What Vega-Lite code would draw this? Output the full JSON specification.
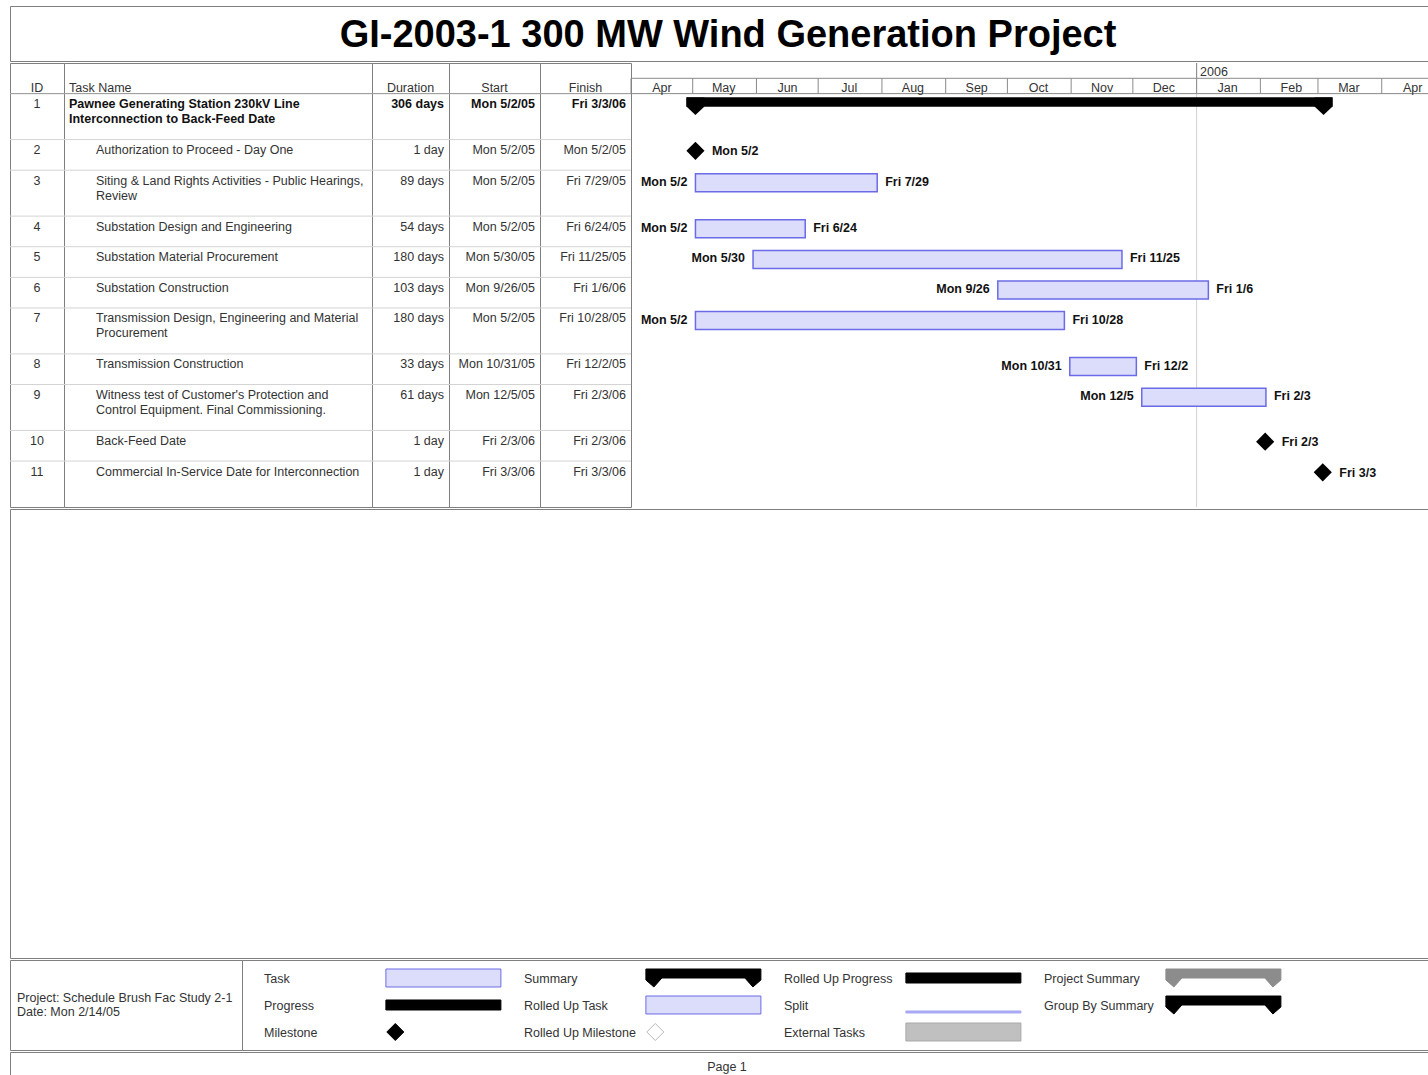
{
  "$schema": "https://vega.github.io/schema/vega-lite/v6.json",
  "background": "white",
  "padding": {"left": 9, "top": 5, "right": 0, "bottom": 0},
  "spacing": 0,
  "config": {
    "font": "Liberation Sans",
    "view": {"stroke": "#7f7f7f", "strokeWidth": 1},
    "axis": {"labelFont": "Liberation Sans"}
  },
  "datasets": {
    "tasks": [
      {"ID": 1, "name": "Pawnee Generating Station   230kV Line\nInterconnection to Back-Feed Date", "level": 1, "duration": "306 days", "start": "2005-05-02T08:00", "finish": "2006-03-03T17:00", "type": "summary"},
      {"ID": 2, "name": "Authorization to Proceed - Day One", "level": 2, "duration": "1 day", "start": "2005-05-02T08:00", "finish": "2005-05-02T17:00", "type": "milestone"},
      {"ID": 3, "name": "Siting & Land Rights Activities - Public Hearings,\nReview", "level": 2, "duration": "89 days", "start": "2005-05-02T08:00", "finish": "2005-07-29T17:00", "type": "task"},
      {"ID": 4, "name": "Substation Design and Engineering", "level": 2, "duration": "54 days", "start": "2005-05-02T08:00", "finish": "2005-06-24T17:00", "type": "task"},
      {"ID": 5, "name": "Substation Material Procurement", "level": 2, "duration": "180 days", "start": "2005-05-30T08:00", "finish": "2005-11-25T17:00", "type": "task"},
      {"ID": 6, "name": "Substation Construction", "level": 2, "duration": "103 days", "start": "2005-09-26T08:00", "finish": "2006-01-06T17:00", "type": "task"},
      {"ID": 7, "name": "Transmission Design, Engineering and Material\nProcurement", "level": 2, "duration": "180 days", "start": "2005-05-02T08:00", "finish": "2005-10-28T17:00", "type": "task"},
      {"ID": 8, "name": "Transmission Construction", "level": 2, "duration": "33 days", "start": "2005-10-31T08:00", "finish": "2005-12-02T17:00", "type": "task"},
      {"ID": 9, "name": "Witness test of Customer's Protection and\nControl Equipment.  Final Commissioning.", "level": 2, "duration": "61 days", "start": "2005-12-05T08:00", "finish": "2006-02-03T17:00", "type": "task"},
      {"ID": 10, "name": "Back-Feed Date", "level": 2, "duration": "1 day", "start": "2006-02-03T08:00", "finish": "2006-02-03T17:00", "type": "milestone"},
      {"ID": 11, "name": "Commercial In-Service Date for Interconnection", "level": 2, "duration": "1 day", "start": "2006-03-03T08:00", "finish": "2006-03-03T17:00", "type": "milestone"}
    ],
    "months": [
      {"m": "2005-04-01T00:00", "tier": "H2"}, {"m": "2005-05-01T00:00", "tier": "H2"}, {"m": "2005-06-01T00:00", "tier": "H2"},
      {"m": "2005-07-01T00:00", "tier": "H2"}, {"m": "2005-08-01T00:00", "tier": "H2"}, {"m": "2005-09-01T00:00", "tier": "H2"},
      {"m": "2005-10-01T00:00", "tier": "H2"}, {"m": "2005-11-01T00:00", "tier": "H2"}, {"m": "2005-12-01T00:00", "tier": "H2"},
      {"m": "2006-01-01T00:00", "tier": "H2"}, {"m": "2006-02-01T00:00", "tier": "H2"}, {"m": "2006-03-01T00:00", "tier": "H2"},
      {"m": "2006-04-01T00:00", "tier": "H2"}
    ],
    "years": [
      {"d": "2006-01-01T00:00", "yr": "2006", "tier": "H1", "sep": "H2", "line": 1}
    ],
    "legend": [
      {"item": "Task", "col": "1", "row": "1", "glyph": "task"},
      {"item": "Progress", "col": "1", "row": "2", "glyph": "progress"},
      {"item": "Milestone", "col": "1", "row": "3", "glyph": "milestone"},
      {"item": "Summary", "col": "2", "row": "1", "glyph": "summary"},
      {"item": "Rolled Up Task", "col": "2", "row": "2", "glyph": "rolledTask"},
      {"item": "Rolled Up Milestone", "col": "2", "row": "3", "glyph": "rolledMilestone"},
      {"item": "Rolled Up Progress", "col": "3", "row": "1", "glyph": "rolledProgress"},
      {"item": "Split", "col": "3", "row": "2", "glyph": "split"},
      {"item": "External Tasks", "col": "3", "row": "3", "glyph": "external"},
      {"item": "Project Summary", "col": "4", "row": "1", "glyph": "projectSummary"},
      {"item": "Group By Summary", "col": "4", "row": "2", "glyph": "groupSummary"}
    ]
  },
  "vconcat": [
    {
      "width": 1418, "height": 55,
      "data": {"values": [{"t": "GI-2003-1 300 MW Wind Generation Project"}]},
      "mark": {"type": "text", "fontSize": 38, "fontWeight": "bold", "color": "#000000", "baseline": "middle", "dx": 9, "dy": 2},
      "encoding": {
        "x": {"field": "t", "type": "nominal", "scale": {"type": "band", "paddingInner": 0, "paddingOuter": 0}, "axis": null},
        "y": {"field": "t", "type": "nominal", "scale": {"type": "band", "paddingInner": 0, "paddingOuter": 0}, "axis": null},
        "text": {"field": "t"}}
    },
    {
      "hconcat": [
        {
          "width": 54, "height": 444,
          "layer": [
            {"data": {"name": "tasks"}, "mark": {"type": "rule", "color": "#d4d4d4"},
             "encoding": {"y": {"field": "ID", "type": "nominal", "bandPosition": 0, "scale": {"type": "band", "domain": ["H1","H2",1,"1b","1c",2,"2b",3,"3b","3c",4,"4b",5,"5b",6,"6b",7,"7b","7c",8,"8b",9,"9b","9c",10,"10b",11,"11b","11c"], "paddingInner": 0, "paddingOuter": 0}, "axis": null}}},
            {"data": {"values": [{"h": "ID", "slot": "H2", "line": 1}]}, "mark": {"type": "rule", "color": "#999999"},
             "encoding": {"y": {"field": "line", "type": "nominal", "bandPosition": 0, "axis": null}}},
            {"data": {"values": [{"h": "ID", "slot": "H2", "line": 1}]}, "mark": {"type": "text", "baseline": "middle", "dy": 1.75, "fontSize": 12.5, "color": "#333333"},
             "encoding": {"y": {"field": "slot", "type": "nominal", "axis": null}, "text": {"field": "h"}}},
            {"data": {"name": "tasks"}, "mark": {"type": "text", "baseline": "top", "dy": 4.5, "fontSize": 12.5, "color": "#333333"},
             "encoding": {"y": {"field": "ID", "type": "nominal", "bandPosition": 0, "axis": null}, "text": {"field": "ID"}}}
          ]
        },
        {
          "width": 308, "height": 444,
          "layer": [
            {"data": {"name": "tasks"}, "mark": {"type": "rule", "color": "#d4d4d4"},
             "encoding": {"y": {"field": "ID", "type": "nominal", "bandPosition": 0, "scale": {"type": "band", "domain": ["H1","H2",1,"1b","1c",2,"2b",3,"3b","3c",4,"4b",5,"5b",6,"6b",7,"7b","7c",8,"8b",9,"9b","9c",10,"10b",11,"11b","11c"], "paddingInner": 0, "paddingOuter": 0}, "axis": null}}},
            {"data": {"values": [{"h": "Task Name", "slot": "H2", "line": 1, "level": 1}]}, "mark": {"type": "rule", "color": "#999999"},
             "encoding": {"y": {"field": "line", "type": "nominal", "bandPosition": 0, "axis": null}}},
            {"data": {"values": [{"h": "Task Name", "slot": "H2", "line": 1, "level": 1}]}, "mark": {"type": "text", "align": "left", "baseline": "middle", "dy": 1.75, "fontSize": 12.5, "color": "#333333"},
             "encoding": {"x": {"field": "level", "type": "quantitative", "scale": {"domain": [1, 2], "range": [5, 32]}, "axis": null}, "y": {"field": "slot", "type": "nominal", "axis": null}, "text": {"field": "h"}}},
            {"data": {"name": "tasks"}, "transform": [{"filter": "datum.level == 1"}],
             "mark": {"type": "text", "align": "left", "baseline": "top", "dy": 4.5, "fontSize": 12.5, "fontWeight": "bold", "color": "#111111", "lineBreak": "\n", "lineHeight": 15},
             "encoding": {"x": {"field": "level", "type": "quantitative", "axis": null}, "y": {"field": "ID", "type": "nominal", "bandPosition": 0, "axis": null}, "text": {"field": "name"}}},
            {"data": {"name": "tasks"}, "transform": [{"filter": "datum.level == 2"}],
             "mark": {"type": "text", "align": "left", "baseline": "top", "dy": 4.5, "fontSize": 12.5, "color": "#333333", "lineBreak": "\n", "lineHeight": 15},
             "encoding": {"x": {"field": "level", "type": "quantitative", "axis": null}, "y": {"field": "ID", "type": "nominal", "bandPosition": 0, "axis": null}, "text": {"field": "name"}}}
          ]
        },
        {
          "width": 77, "height": 444,
          "layer": [
            {"data": {"name": "tasks"}, "mark": {"type": "rule", "color": "#d4d4d4"},
             "encoding": {"y": {"field": "ID", "type": "nominal", "bandPosition": 0, "scale": {"type": "band", "domain": ["H1","H2",1,"1b","1c",2,"2b",3,"3b","3c",4,"4b",5,"5b",6,"6b",7,"7b","7c",8,"8b",9,"9b","9c",10,"10b",11,"11b","11c"], "paddingInner": 0, "paddingOuter": 0}, "axis": null}}},
            {"data": {"values": [{"h": "Duration", "slot": "H2", "line": 1}]}, "mark": {"type": "rule", "color": "#999999"},
             "encoding": {"y": {"field": "line", "type": "nominal", "bandPosition": 0, "axis": null}}},
            {"data": {"values": [{"h": "Duration", "slot": "H2", "line": 1}]}, "mark": {"type": "text", "baseline": "middle", "dy": 1.75, "fontSize": 12.5, "color": "#333333"},
             "encoding": {"y": {"field": "slot", "type": "nominal", "axis": null}, "text": {"field": "h"}}},
            {"data": {"name": "tasks"}, "transform": [{"filter": "datum.level == 1"}],
             "mark": {"type": "text", "x": "width", "dx": -5, "align": "right", "baseline": "top", "dy": 4.5, "fontSize": 12.5, "fontWeight": "bold", "color": "#111111"},
             "encoding": {"y": {"field": "ID", "type": "nominal", "bandPosition": 0, "axis": null}, "text": {"field": "duration"}}},
            {"data": {"name": "tasks"}, "transform": [{"filter": "datum.level == 2"}],
             "mark": {"type": "text", "x": "width", "dx": -5, "align": "right", "baseline": "top", "dy": 4.5, "fontSize": 12.5, "color": "#333333"},
             "encoding": {"y": {"field": "ID", "type": "nominal", "bandPosition": 0, "axis": null}, "text": {"field": "duration"}}}
          ]
        },
        {
          "width": 91, "height": 444,
          "layer": [
            {"data": {"name": "tasks"}, "mark": {"type": "rule", "color": "#d4d4d4"},
             "encoding": {"y": {"field": "ID", "type": "nominal", "bandPosition": 0, "scale": {"type": "band", "domain": ["H1","H2",1,"1b","1c",2,"2b",3,"3b","3c",4,"4b",5,"5b",6,"6b",7,"7b","7c",8,"8b",9,"9b","9c",10,"10b",11,"11b","11c"], "paddingInner": 0, "paddingOuter": 0}, "axis": null}}},
            {"data": {"values": [{"h": "Start", "slot": "H2", "line": 1}]}, "mark": {"type": "rule", "color": "#999999"},
             "encoding": {"y": {"field": "line", "type": "nominal", "bandPosition": 0, "axis": null}}},
            {"data": {"values": [{"h": "Start", "slot": "H2", "line": 1}]}, "mark": {"type": "text", "baseline": "middle", "dy": 1.75, "fontSize": 12.5, "color": "#333333"},
             "encoding": {"y": {"field": "slot", "type": "nominal", "axis": null}, "text": {"field": "h"}}},
            {"data": {"name": "tasks"}, "transform": [{"filter": "datum.level == 1"}],
             "mark": {"type": "text", "x": "width", "dx": -5, "align": "right", "baseline": "top", "dy": 4.5, "fontSize": 12.5, "fontWeight": "bold", "color": "#111111"},
             "encoding": {"y": {"field": "ID", "type": "nominal", "bandPosition": 0, "axis": null}, "text": {"field": "start", "type": "temporal", "format": "%a %-m/%-d/%y"}}},
            {"data": {"name": "tasks"}, "transform": [{"filter": "datum.level == 2"}],
             "mark": {"type": "text", "x": "width", "dx": -5, "align": "right", "baseline": "top", "dy": 4.5, "fontSize": 12.5, "color": "#333333"},
             "encoding": {"y": {"field": "ID", "type": "nominal", "bandPosition": 0, "axis": null}, "text": {"field": "start", "type": "temporal", "format": "%a %-m/%-d/%y"}}}
          ]
        },
        {
          "width": 91, "height": 444,
          "layer": [
            {"data": {"name": "tasks"}, "mark": {"type": "rule", "color": "#d4d4d4"},
             "encoding": {"y": {"field": "ID", "type": "nominal", "bandPosition": 0, "scale": {"type": "band", "domain": ["H1","H2",1,"1b","1c",2,"2b",3,"3b","3c",4,"4b",5,"5b",6,"6b",7,"7b","7c",8,"8b",9,"9b","9c",10,"10b",11,"11b","11c"], "paddingInner": 0, "paddingOuter": 0}, "axis": null}}},
            {"data": {"values": [{"h": "Finish", "slot": "H2", "line": 1}]}, "mark": {"type": "rule", "color": "#999999"},
             "encoding": {"y": {"field": "line", "type": "nominal", "bandPosition": 0, "axis": null}}},
            {"data": {"values": [{"h": "Finish", "slot": "H2", "line": 1}]}, "mark": {"type": "text", "baseline": "middle", "dy": 1.75, "fontSize": 12.5, "color": "#333333"},
             "encoding": {"y": {"field": "slot", "type": "nominal", "axis": null}, "text": {"field": "h"}}},
            {"data": {"name": "tasks"}, "transform": [{"filter": "datum.level == 1"}],
             "mark": {"type": "text", "x": "width", "dx": -5, "align": "right", "baseline": "top", "dy": 4.5, "fontSize": 12.5, "fontWeight": "bold", "color": "#111111"},
             "encoding": {"y": {"field": "ID", "type": "nominal", "bandPosition": 0, "axis": null}, "text": {"field": "finish", "type": "temporal", "format": "%a %-m/%-d/%y"}}},
            {"data": {"name": "tasks"}, "transform": [{"filter": "datum.level == 2"}],
             "mark": {"type": "text", "x": "width", "dx": -5, "align": "right", "baseline": "top", "dy": 4.5, "fontSize": 12.5, "color": "#333333"},
             "encoding": {"y": {"field": "ID", "type": "nominal", "bandPosition": 0, "axis": null}, "text": {"field": "finish", "type": "temporal", "format": "%a %-m/%-d/%y"}}}
          ]
        },
        {
          "width": 797, "height": 444,
          "view": {"stroke": null},
          "layer": [
            {"data": {"name": "years"}, "mark": {"type": "rule", "color": "#d0d0d0"},
             "encoding": {"x": {"field": "d", "type": "temporal",
               "scale": {"type": "time", "nice": false, "domain": [{"year": 2005, "month": 4, "date": 1}, {"year": 2006, "month": 4, "date": 23, "hours": 12}]},
               "axis": null}}},
            {"data": {"name": "years"}, "mark": {"type": "rule", "color": "#8a8a8a"},
             "encoding": {"y": {"field": "sep", "type": "nominal", "bandPosition": 0, "axis": null}}},
            {"data": {"name": "years"}, "mark": {"type": "rule", "color": "#8a8a8a"},
             "encoding": {"y": {"field": "line", "type": "nominal", "bandPosition": 0, "axis": null}}},
            {"data": {"name": "years"}, "mark": {"type": "tick", "color": "#8a8a8a", "size": 15.31, "thickness": 1, "opacity": 1},
             "encoding": {"x": {"field": "d", "type": "temporal", "axis": null}, "y": {"field": "tier", "type": "nominal", "axis": null}}},
            {"data": {"name": "years"}, "mark": {"type": "text", "align": "left", "dx": 3.5, "baseline": "middle", "dy": 1, "fontSize": 12.5, "color": "#333333"},
             "encoding": {"x": {"field": "d", "type": "temporal", "axis": null}, "y": {"field": "tier", "type": "nominal", "axis": null}, "text": {"field": "yr"}}},
            {"data": {"name": "months"}, "mark": {"type": "tick", "color": "#8a8a8a", "size": 15.31, "thickness": 1, "opacity": 1},
             "encoding": {"x": {"field": "m", "type": "temporal", "axis": null}, "y": {"field": "tier", "type": "nominal", "axis": null}}},
            {"data": {"name": "months"}, "mark": {"type": "text", "align": "center", "dx": 31, "baseline": "middle", "dy": 2, "fontSize": 12.5, "color": "#333333"},
             "encoding": {"x": {"field": "m", "type": "temporal", "axis": null}, "y": {"field": "tier", "type": "nominal", "axis": null}, "text": {"field": "m", "type": "temporal", "format": "%b"}}},
            {"data": {"name": "tasks"}, "transform": [{"filter": "datum.type === 'summary'"}],
             "mark": {"type": "bar", "color": "#000000", "size": 9.5, "xOffset": -9, "x2Offset": 9, "yOffset": 0.75},
             "encoding": {"x": {"field": "start", "type": "temporal", "axis": null}, "x2": {"field": "finish"},
               "y": {"field": "ID", "type": "nominal", "scale": {"type": "band", "domain": ["H1","H2",1,"1b","1c",2,"2b",3,"3b","3c",4,"4b",5,"5b",6,"6b",7,"7b","7c",8,"8b",9,"9b","9c",10,"10b",11,"11b","11c"], "paddingInner": 0, "paddingOuter": 0}, "axis": null}}},
            {"data": {"name": "tasks"}, "transform": [{"filter": "datum.type === 'summary'"}],
             "mark": {"type": "point", "shape": "M-1,-0.5L1,-0.5L1,0.5L0,1.45L-1,0.5Z", "size": 324, "filled": true, "color": "#000000", "opacity": 1, "strokeWidth": 0, "yOffset": 0.75},
             "encoding": {"x": {"field": "start", "type": "temporal", "axis": null}, "y": {"field": "ID", "type": "nominal", "axis": null}}},
            {"data": {"name": "tasks"}, "transform": [{"filter": "datum.type === 'summary'"}],
             "mark": {"type": "point", "shape": "M-1,-0.5L1,-0.5L1,0.5L0,1.45L-1,0.5Z", "size": 324, "filled": true, "color": "#000000", "opacity": 1, "strokeWidth": 0, "yOffset": 0.75},
             "encoding": {"x": {"field": "finish", "type": "temporal", "axis": null}, "y": {"field": "ID", "type": "nominal", "axis": null}}},
            {"data": {"name": "tasks"}, "transform": [{"filter": "datum.type === 'task'"}],
             "mark": {"type": "bar", "size": 18, "yOffset": 5, "fill": "#dcdcfb", "stroke": "#6b6be8", "strokeWidth": 1.5},
             "encoding": {"x": {"field": "start", "type": "temporal", "axis": null}, "x2": {"field": "finish"}, "y": {"field": "ID", "type": "nominal", "axis": null}}},
            {"data": {"name": "tasks"}, "transform": [{"filter": "datum.type === 'task'"}],
             "mark": {"type": "text", "align": "right", "dx": -8, "dy": 4, "baseline": "middle", "fontWeight": "bold", "fontSize": 12.5, "color": "#111111"},
             "encoding": {"x": {"field": "start", "type": "temporal", "axis": null}, "y": {"field": "ID", "type": "nominal", "axis": null}, "text": {"field": "start", "type": "temporal", "format": "%a %-m/%-d"}}},
            {"data": {"name": "tasks"}, "transform": [{"filter": "datum.type === 'task'"}],
             "mark": {"type": "text", "align": "left", "dx": 8, "dy": 4, "baseline": "middle", "fontWeight": "bold", "fontSize": 12.5, "color": "#111111"},
             "encoding": {"x": {"field": "finish", "type": "temporal", "axis": null}, "y": {"field": "ID", "type": "nominal", "axis": null}, "text": {"field": "finish", "type": "temporal", "format": "%a %-m/%-d"}}},
            {"data": {"name": "tasks"}, "transform": [{"filter": "datum.type === 'milestone'"}],
             "mark": {"type": "point", "shape": "diamond", "size": 330, "filled": true, "color": "#000000", "opacity": 1, "strokeWidth": 0, "yOffset": 3.6},
             "encoding": {"x": {"field": "start", "type": "temporal", "axis": null}, "y": {"field": "ID", "type": "nominal", "axis": null}}},
            {"data": {"name": "tasks"}, "transform": [{"filter": "datum.type === 'milestone'"}],
             "mark": {"type": "text", "align": "left", "dx": 16.5, "dy": 4, "baseline": "middle", "fontWeight": "bold", "fontSize": 12.5, "color": "#111111"},
             "encoding": {"x": {"field": "start", "type": "temporal", "axis": null}, "y": {"field": "ID", "type": "nominal", "axis": null}, "text": {"field": "start", "type": "temporal", "format": "%a %-m/%-d"}}}
          ]
        }
      ],
      "spacing": 0,
      "bounds": "flush"
    },
    {
      "width": 1418, "height": 449,
      "data": {"values": [{"t": ""}]},
      "mark": "text",
      "encoding": {
        "x": {"field": "t", "type": "nominal", "scale": {"type": "band", "paddingInner": 0, "paddingOuter": 0}, "axis": null},
        "y": {"field": "t", "type": "nominal", "scale": {"type": "band", "paddingInner": 0, "paddingOuter": 0}, "axis": null},
        "text": {"field": "t"}}
    },
    {
      "hconcat": [
        {
          "width": 232, "height": 90,
          "data": {"values": [{"t": "Project: Schedule Brush Fac Study 2-1\nDate: Mon 2/14/05"}]},
          "mark": {"type": "text", "dx": 7, "align": "left", "baseline": "top", "dy": -13.4, "lineBreak": "\n", "lineHeight": 14, "fontSize": 12.5, "color": "#333333"},
          "encoding": {
            "x": {"field": "t", "type": "nominal", "bandPosition": 0, "scale": {"type": "band", "paddingInner": 0, "paddingOuter": 0}, "axis": null},
            "y": {"field": "t", "type": "nominal", "scale": {"type": "band", "paddingInner": 0, "paddingOuter": 0}, "axis": null},
            "text": {"field": "t"}}
        },
        {
          "width": 1186, "height": 90,
          "data": {"name": "legend"},
          "layer": [
            {"mark": {"type": "text", "align": "left", "baseline": "middle", "dy": 1, "fontSize": 12.5, "color": "#333333"},
             "encoding": {
               "x": {"field": "col", "type": "nominal", "bandPosition": 0, "scale": {"type": "band", "domain": ["1","2","3","4"], "paddingInner": 0, "paddingOuter": 0.2808, "align": 0.1507}, "axis": null},
               "y": {"field": "row", "type": "nominal", "scale": {"type": "band", "domain": ["1","2","3"], "paddingInner": 0, "paddingOuter": 0.1667}, "axis": null},
               "text": {"field": "item"}}},
            {"transform": [{"filter": "datum.glyph !== 'milestone' && datum.glyph !== 'rolledMilestone'"}],
             "mark": {"type": "point", "filled": true, "opacity": 1, "size": 13225, "strokeWidth": 1},
             "encoding": {
               "x": {"field": "col", "type": "nominal", "bandPosition": 0.69, "axis": null},
               "y": {"field": "row", "type": "nominal", "axis": null},
               "shape": {"field": "glyph", "type": "nominal", "legend": null, "scale": {
                 "domain": ["task","progress","milestone","summary","rolledTask","rolledMilestone","rolledProgress","split","external","projectSummary","groupSummary"],
                 "range": ["M-1,-0.1565L1,-0.1565L1,0.1565L-1,0.1565Z","M-1,-0.087L1,-0.087L1,0.087L-1,0.087Z","diamond","M-1,-0.1565L1,-0.1565L1,0.0348L0.861,0.1565L0.722,0L-0.722,0L-0.861,0.1565L-1,0.0348Z","M-1,-0.1565L1,-0.1565L1,0.1565L-1,0.1565Z","diamond","M-1,-0.087L1,-0.087L1,0.087L-1,0.087Z","M-1,0.104L1,0.104L1,0.139L-1,0.139Z","M-1,-0.1565L1,-0.1565L1,0.1565L-1,0.1565Z","M-1,-0.1565L1,-0.1565L1,0.0348L0.861,0.1565L0.722,0L-0.722,0L-0.861,0.1565L-1,0.0348Z","M-1,-0.1565L1,-0.1565L1,0.0348L0.861,0.1565L0.722,0L-0.722,0L-0.861,0.1565L-1,0.0348Z"]}},
               "fill": {"field": "glyph", "type": "nominal", "legend": null, "scale": {
                 "domain": ["task","progress","milestone","summary","rolledTask","rolledMilestone","rolledProgress","split","external","projectSummary","groupSummary"],
                 "range": ["#dcdcfb","#000000","#000000","#000000","#dcdcfb","#ffffff","#000000","#a8a8f5","#c0c0c0","#8c8c8c","#000000"]}},
               "stroke": {"field": "glyph", "type": "nominal", "legend": null, "scale": {
                 "domain": ["task","progress","milestone","summary","rolledTask","rolledMilestone","rolledProgress","split","external","projectSummary","groupSummary"],
                 "range": ["#6b6be8","#000000","#000000","#000000","#6b6be8","#b8b8b8","#000000","#a8a8f5","#a8a8a8","#8c8c8c","#000000"]}}}},
            {"transform": [{"filter": "datum.glyph === 'milestone' || datum.glyph === 'rolledMilestone'"}],
             "mark": {"type": "point", "shape": "diamond", "filled": true, "opacity": 1, "size": 289, "strokeWidth": 1},
             "encoding": {
               "x": {"field": "col", "type": "nominal", "bandPosition": 0.505, "axis": null},
               "y": {"field": "row", "type": "nominal", "axis": null},
               "fill": {"field": "glyph", "type": "nominal", "legend": null},
               "stroke": {"field": "glyph", "type": "nominal", "legend": null}}}
          ]
        }
      ],
      "spacing": 0,
      "bounds": "flush"
    },
    {
      "width": 1418, "height": 23,
      "data": {"values": [{"t": "Page 1"}]},
      "mark": {"type": "text", "fontSize": 12.5, "color": "#333333", "baseline": "middle", "dx": 8, "dy": 3},
      "encoding": {
        "x": {"field": "t", "type": "nominal", "scale": {"type": "band", "paddingInner": 0, "paddingOuter": 0}, "axis": null},
        "y": {"field": "t", "type": "nominal", "scale": {"type": "band", "paddingInner": 0, "paddingOuter": 0}, "axis": null},
        "text": {"field": "t"}}
    }
  ]
}
